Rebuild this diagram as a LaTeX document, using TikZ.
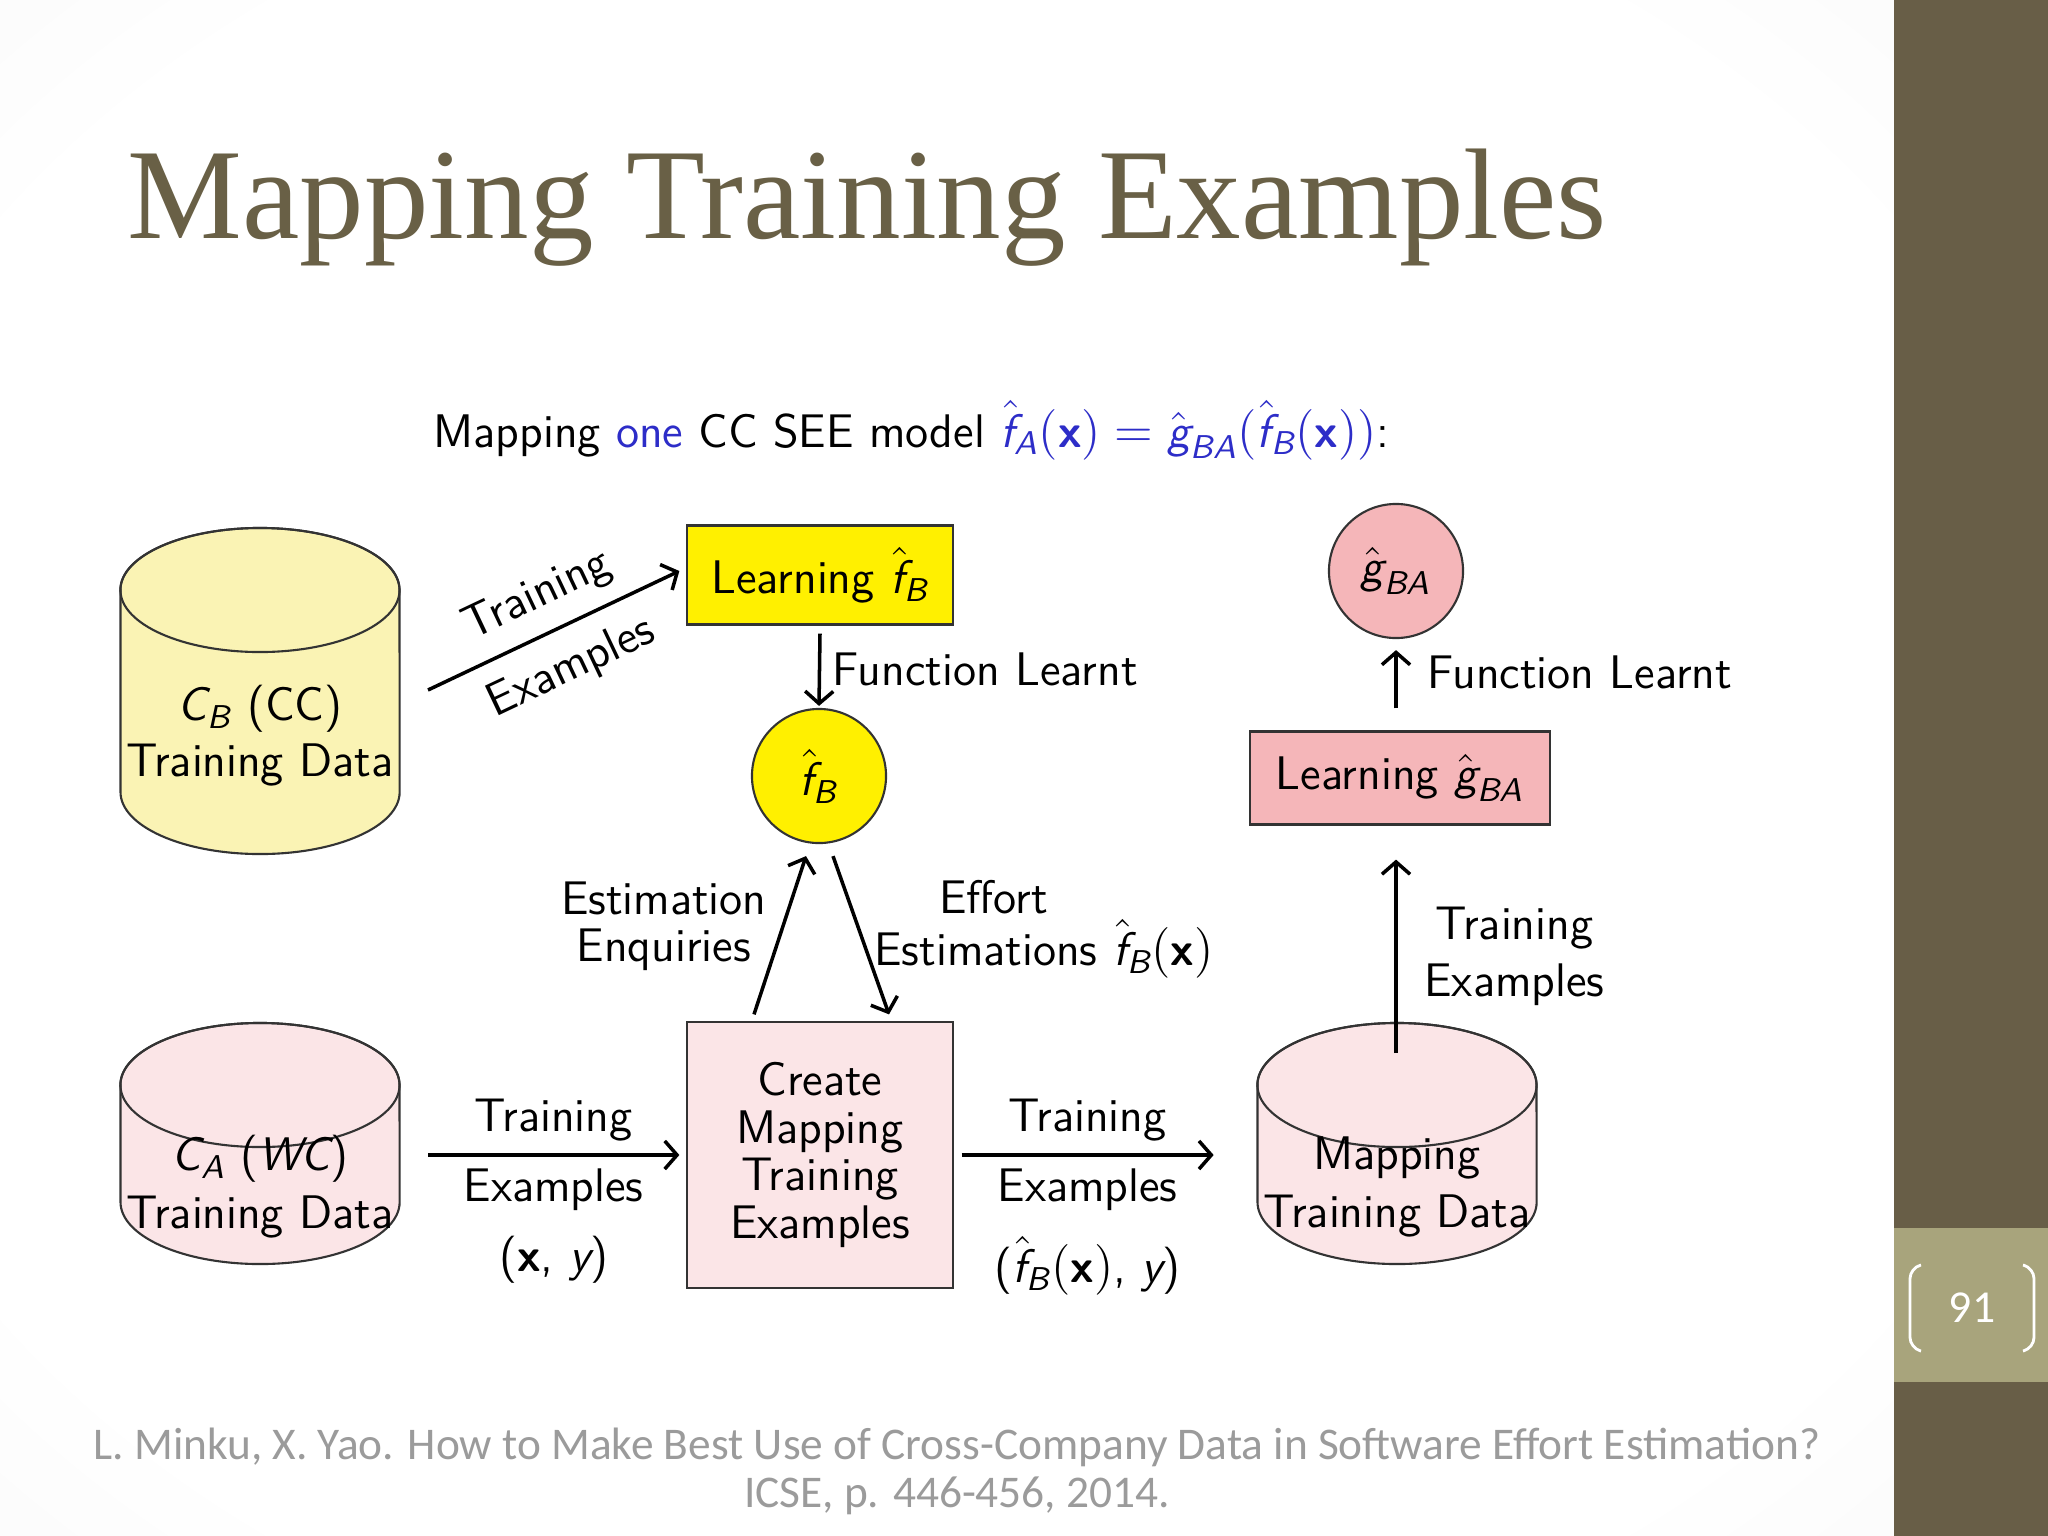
\documentclass[tikz,border=0pt]{standalone}
\usepackage{amsmath}
\usepackage{fontspec}
\newfontfamily\titlefont{Liberation Serif}
\newfontfamily\notefont{Carlito}
\usetikzlibrary{calc, arrows.meta}

\definecolor{olivetitle}{RGB}{105,96,70}
\definecolor{sidebar}{RGB}{104,94,71}
\definecolor{numband}{RGB}{168,164,124}
\definecolor{paleyellow}{RGB}{250,243,180}
\definecolor{brightyellow}{RGB}{255,240,0}
\definecolor{palepink}{RGB}{251,229,231}
\definecolor{rosepink}{RGB}{245,182,185}
\definecolor{mathblue}{RGB}{45,45,200}
\definecolor{footgray}{RGB}{155,155,155}

\newcommand{\vi}[1]{\textit{#1}}
\newcommand{\hatf}[1]{\hat{\vi{f}\kern0.14em}\kern-0.14em_{\vi{#1}}}
\newcommand{\hatg}{\hat{\vi{g}}_{\vi{BA}}}
\newcommand{\bx}{\textbf{x}}

% data store drum: centre x, top y, bottom y, fill
\newcommand{\datadrum}[4]{%
    \draw[drumline, fill=#4] (#1-139.5,#2+62) -- (#1-139.5,#3-62)
        arc[start angle=180, end angle=360, x radius=1.395cm, y radius=0.62cm]
        -- (#1+139.5,#2+62)
        arc[start angle=0, end angle=180, x radius=1.395cm, y radius=0.62cm] -- cycle;
    \draw[drumline] (#1,#2+62) ellipse [x radius=1.395cm, y radius=0.62cm];
}

\pgfdeclareradialshading{slidebg}{\pgfpoint{0bp}{0bp}}{color(0bp)=(white); color(30bp)=(white); color(50bp)=(gray!10); color(72bp)=(gray!25)}

\tikzset{
    drumline/.style={draw=black!80, line width=0.6pt},
    proc/.style={rectangle, draw=black!80, line width=0.6pt, align=center},
    model/.style={circle, draw=black!80, line width=0.6pt, minimum size=1.34cm, inner sep=0pt},
    flow/.style={->, line width=1pt},
}

\begin{document}
\begin{tikzpicture}[x=0.01cm, y=-0.01cm, >={Straight Barb[length=3.5pt, width=8pt]}, font=\sffamily\fontsize{13.4}{13.6}\selectfont, every node/.append style={align=center}]
    \useasboundingbox (0,0) rectangle (2048,1536);
    % slide
    \shade[shading=slidebg] (0,0) rectangle (1894,1536);
    \fill[white] (102,380) rectangle (1890,1313);
    \fill[sidebar] (1894,0) rectangle (2048,1536);
    \fill[numband] (1894,1228) rectangle (2048,1382);
    \draw[white, line width=0.8pt, rounded corners=3pt] (1921,1265) -- (1910,1268) -- (1910,1348) -- (1921,1351);
    \draw[white, line width=0.8pt, rounded corners=3pt] (2023,1265) -- (2034,1268) -- (2034,1348) -- (2023,1351);
    \node[text=white, font=\notefont\fontsize{13}{15}\selectfont] (pagenum) at (1972,1308) {91};

    \node[anchor=base west, inner sep=0pt, text=olivetitle, font=\titlefont\fontsize{36.7}{44}\selectfont] (title) at (127,238) {Mapping Training Examples};
    \node[anchor=base west, inner sep=0pt] (lead) at (433,447) {Mapping \textcolor{mathblue}{one} CC SEE model \textcolor{mathblue}{$\hatf{A}(\bx) = \hatg(\hatf{B}(\bx))$}:};

    % data stores
    \datadrum{260}{528}{854}{paleyellow}
    \datadrum{260}{1023}{1264}{palepink}
    \datadrum{1397}{1023}{1264}{palepink}
    \node (cb) at (260,736) {$\vi{C}_{\vi{B}}$ (CC)\\[2.3pt]Training Data};
    \node (ca) at (260,1187) {$\vi{C}_{\vi{A}}$ ($\vi{WC}$)\\[2.9pt]Training Data};
    \node (mapdata) at (1397,1187) {Mapping\\[2.9pt]Training Data};

    % processes and models
    \node[proc, fill=brightyellow, minimum width=2.65cm, minimum height=0.99cm] (learnf) at (820,575) {Learning $\hatf{B}$};
    \node[model, fill=brightyellow] (fb) at (819,776) {$\hatf{B}$};
    \node[proc, fill=palepink, minimum width=2.65cm, minimum height=2.65cm] (create) at (820,1155) {Create\\Mapping\\Training\\Examples};
    \node[proc, fill=rosepink, minimum width=2.99cm, minimum height=0.93cm] (learng) at (1400,778) {Learning $\hatg$};
    \node[model, fill=rosepink] (gba) at (1396,571) {$\hatg$};

    % flows
    \draw[flow] ($(cb.center)+(168,-46)$) -- node[above=1pt, sloped] {Training} node[below=2pt, sloped] {Examples} ($(learnf.west)+(-7,-4)$);
    \draw[flow] ($(learnf.south)+(0,8)$) -- node[right] {Function Learnt} ($(fb.north)+(0,-2)$);
    \draw[flow] ($(create.north)+(-66,-7)$) -- node[left, yshift=0.09cm] {Estimation\\Enquiries} ($(fb.south)+(-13,12)$);
    \draw[flow] ($(fb.south)+(14,12)$) -- node[right, yshift=0.06cm] {Effort\\[1.2pt]Estimations \rlap{$\hatf{B}(\bx)$}} ($(create.north)+(69,-7)$);
    \draw[flow] ($(ca.center)+(168,-32)$) -- node[above] {Training} node[below] {Examples\\[6.3pt]($\bx$, $\vi{y}$)} ($(create.west)+(-7,0)$);
    \draw[flow] ($(create.east)+(8,0)$) -- node[above] {Training} node[below] {Examples\\[6.3pt]($\hatf{B}(\bx)$, $\vi{y}$)} ($(create.east)+(260,0)$);
    \draw[flow] ($(mapdata.center)+(-1,-134)$) -- node[right, xshift=0.15cm] {Training\\[2.6pt]Examples} ($(learng.south)+(-4,34)$);
    \draw[flow] ($(learng.north)+(-4,-22)$) -- node[right, xshift=0.18cm, yshift=0.07cm] {Function Learnt} ($(gba.south)+(0,11)$);

    \node[text=footgray, font=\notefont\fontsize{12.9}{13.7}\selectfont] (cite) at (957,1471) {L. Minku, X. Yao. How to Make Best Use of Cross-Company Data in Software Effort Estimation?\\ICSE, p. 446-456, 2014.};
\end{tikzpicture}
\end{document}
